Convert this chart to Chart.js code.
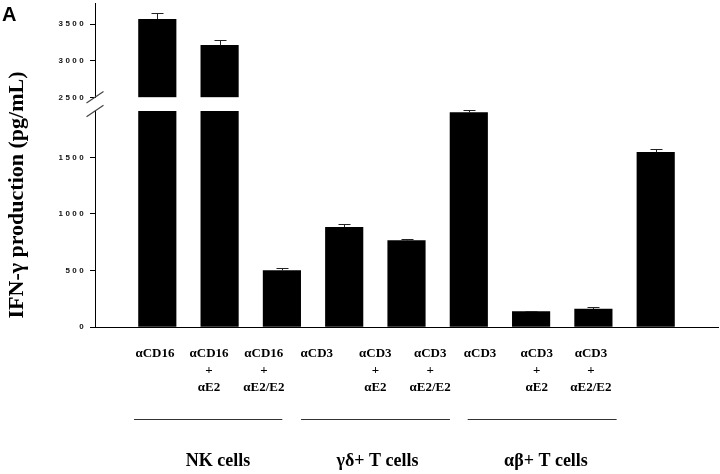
<!DOCTYPE html>
<html>
<head>
<meta charset="utf-8">
<script src="https://cdn.jsdelivr.net/npm/chart.js@4.4.0/dist/chart.umd.min.js"></script>
<style>
html, body { margin: 0; padding: 0; background: #fff; }
</style>
</head>
<body>
<canvas id="chart" width="720" height="474"></canvas>
<script>
// treatment labels under each bar
const tickLabels = [
    ['αCD16'],
    ['αCD16', '+', 'αE2'],
    ['αCD16', '+', 'αE2/E2'],
    ['αCD3'],
    ['αCD3', '+', 'αE2'],
    ['αCD3', '+', 'αE2/E2'],
    ['αCD3'],
    ['αCD3', '+', 'αE2'],
    ['αCD3', '+', 'αE2/E2']
];
const values = [3568, 3210, 500, 882, 764, 1895, 136, 159, 1544];
const errors = [90, 68, 23, 30, 15, 24, 8, 15, 33];
const groupNames = ['NK cells', 'γδ+ T cells', 'αβ+ T cells'];
const yTitle = 'IFN-γ production (pg/mL)';

// broken y axis
const lowTicks = [0, 500, 1000, 1500];
const highTicks = [2500, 3000, 3500];
const lowMax = 1910;
const highMin = 2500;
const highMax = 3790;

// layout (in x axis units)
const labelSlots = [0.963, 1.83, 2.71, 3.56, 4.50, 5.38, 6.18, 7.09, 7.96];
const groupSpans = [[0.626, 3.006], [3.307, 5.698], [5.982, 8.373]];
const groupCenters = [1.974, 4.534, 7.239];

const lowerBars = values.map((v, i) => ({ x: i + 1, y: [0, Math.min(v, lowMax)] }));
const upperBars = values
    .map((v, i) => v > highMin ? { x: i + 1, y: [highMin, v] } : null)
    .filter(Boolean);

const yBase = {
    position: 'left',
    stack: 'left',
    offset: false,
    border: { color: '#000', width: 1 },
    grid: { drawOnChartArea: false, color: '#000', tickColor: '#000', tickLength: 5, tickWidth: 1 },
    ticks: {
        color: '#111',
        font: { family: 'Liberation Sans', size: 8, weight: 'bold' },
        padding: 4,
        callback: v => String(v)
    },
    afterFit: s => {
        s.width = 95;
        s.paddingTop = 0;
        s.paddingBottom = 0;
    }
};

const extras = {
    id: 'extras',
    beforeDraw(chart) {
        chart.ctx.letterSpacing = '2.4px'; // spaced y tick digits
    },
    beforeDatasetsDraw(chart) {
        chart.ctx.letterSpacing = '0px';
    },
    afterDraw(chart) {
        const ctx = chart.ctx;
        const xs = chart.scales.x;
        const yTop = chart.scales.yTop;
        const yBot = chart.scales.yBot;
        ctx.save();
        ctx.letterSpacing = '0px';

        // error bars (upper only)
        ctx.strokeStyle = '#222';
        ctx.lineWidth = 1;
        values.forEach((v, i) => {
            const sc = v > highMin ? yTop : yBot;
            const x = Math.round(xs.getPixelForValue(i + 1)) + 0.5;
            const y0 = sc.getPixelForValue(v);
            const y1 = Math.round(sc.getPixelForValue(v + errors[i])) + 0.5;
            ctx.beginPath();
            ctx.moveTo(x, y0);
            ctx.lineTo(x, y1);
            ctx.moveTo(x - 6, y1);
            ctx.lineTo(x + 6, y1);
            ctx.stroke();
        });

        // axis break marks
        const ax = yBot.right;
        ctx.strokeStyle = '#444';
        ctx.lineWidth = 1.2;
        [yTop.bottom, yBot.top].forEach(yy => {
            ctx.beginPath();
            ctx.moveTo(ax - 8.5, yy + 5.8);
            ctx.lineTo(ax + 8.5, yy - 5.8);
            ctx.stroke();
        });

        // group lines and names
        ctx.strokeStyle = '#333';
        ctx.lineWidth = 1.2;
        groupSpans.forEach(([a, b]) => {
            ctx.beginPath();
            ctx.moveTo(xs.getPixelForValue(a), 419.5);
            ctx.lineTo(xs.getPixelForValue(b), 419.5);
            ctx.stroke();
        });
        ctx.fillStyle = '#000';
        ctx.font = 'bold 18px "Liberation Serif"';
        ctx.textAlign = 'center';
        ctx.textBaseline = 'middle';
        groupNames.forEach((g, i) => {
            ctx.fillText(g, xs.getPixelForValue(groupCenters[i]), 461);
        });

        // y axis title
        ctx.save();
        ctx.translate(23, 195);
        ctx.rotate(-Math.PI / 2);
        ctx.font = 'bold 22px "Liberation Serif"';
        ctx.textAlign = 'center';
        ctx.textBaseline = 'alphabetic';
        ctx.fillText(yTitle, 0, 0);
        ctx.restore();

        // panel letter
        ctx.font = 'bold 20px "Liberation Sans"';
        ctx.textAlign = 'left';
        ctx.textBaseline = 'alphabetic';
        ctx.fillText('A', 2, 21);
        ctx.restore();
    }
};

new Chart(document.getElementById('chart').getContext('2d'), {
    type: 'bar',
    data: {
        datasets: [{
            data: lowerBars,
            yAxisID: 'yBot',
            backgroundColor: '#000',
            borderWidth: 0,
            barThickness: 37.5,
            grouped: false
        }, {
            data: upperBars,
            yAxisID: 'yTop',
            backgroundColor: '#000',
            borderWidth: 0,
            barThickness: 37.5,
            grouped: false
        }]
    },
    options: {
        responsive: false,
        animation: false,
        layout: { padding: { top: 3, right: 2, left: 0, bottom: 0 } },
        plugins: { legend: { display: false }, tooltip: { enabled: false } },
        scales: {
            x: {
                type: 'linear',
                min: 0,
                max: 10,
                offset: false,
                grid: { display: false, drawTicks: false, offset: false },
                border: { color: '#000', width: 1 },
                afterBuildTicks: s => { s.ticks = labelSlots.map(v => ({ value: v })); },
                ticks: {
                    z: 1,
                    autoSkip: false,
                    maxRotation: 0,
                    padding: 18,
                    color: '#000',
                    font: { family: 'Liberation Serif', size: 13, weight: 'bold', lineHeight: 1.3 },
                    callback: (v, i) => tickLabels[i]
                },
                afterFit: s => {
                    s.height = 147;
                    s.paddingLeft = 0;
                    s.paddingRight = 0;
                }
            },
            yBot: {
                ...yBase, min: 0, max: lowMax, stackWeight: 216,
                afterBuildTicks: s => { s.ticks = lowTicks.map(v => ({ value: v })); }
            },
            yGap: {
                position: 'left',
                stack: 'left',
                stackWeight: 13.7,
                min: 0,
                max: 1,
                grid: { display: false, drawTicks: false },
                border: { display: false },
                ticks: { display: false },
                afterFit: s => { s.width = 95; }
            },
            yTop: {
                ...yBase, min: highMin, max: highMax, stackWeight: 94.3,
                afterBuildTicks: s => { s.ticks = highTicks.map(v => ({ value: v })); }
            }
        }
    },
    plugins: [extras]
});
</script>
</body>
</html>
